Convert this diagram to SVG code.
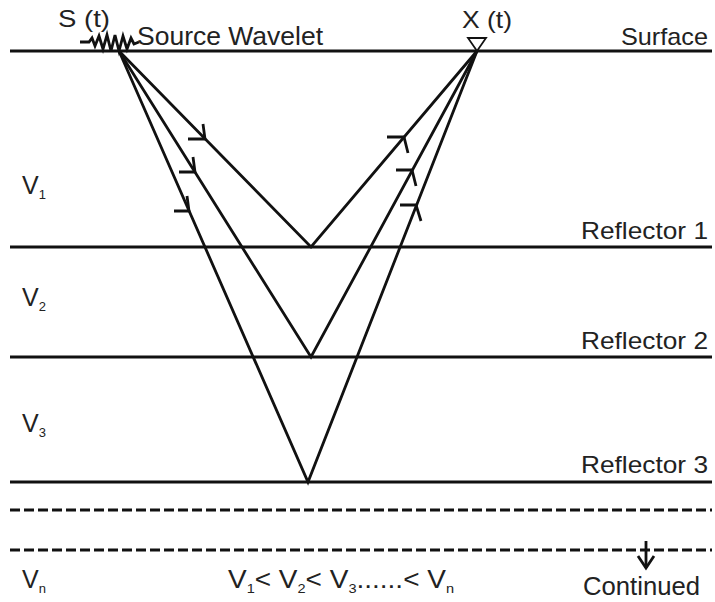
<svg xmlns="http://www.w3.org/2000/svg" width="715" height="602" viewBox="0 0 715 602">
<style>
.t{font-family:"Liberation Sans",Arial,sans-serif;fill:#222;}
.ln{stroke:#111;stroke-width:3;fill:none;}
.dl{stroke:#111;stroke-width:3;fill:none;stroke-dasharray:10 4;}
.ray{stroke:#111;stroke-width:2.8;fill:none;stroke-linejoin:miter;}
.ah{stroke:#111;stroke-width:2.8;fill:none;}
</style>
<rect width="715" height="602" fill="#fff"/>
<g id="layers">
<line class="ln" x1="10" y1="51" x2="712" y2="51"/>
<line class="ln" x1="10" y1="247" x2="712" y2="247"/>
<line class="ln" x1="10" y1="357" x2="712" y2="357"/>
<line class="ln" x1="10" y1="482" x2="712" y2="482"/>
<line class="dl" x1="10" y1="510" x2="712" y2="510"/>
<line class="dl" x1="10" y1="550" x2="712" y2="550"/>
</g>
<g id="source">
<polyline class="ah" stroke-width="2.4" points="80,42 89,42 92,38 95,46 99,36 103,49 107,35 111,51 115,35 119,51 123,36 127,49 131,38 134,44 139,42"/>
<text class="t" x="58" y="27" font-size="24" textLength="52" lengthAdjust="spacingAndGlyphs">S (t)</text>
<text class="t" x="137" y="45" font-size="25" textLength="186" lengthAdjust="spacingAndGlyphs">Source Wavelet</text>
</g>
<g id="receiver">
<polygon points="468,38 486,38 477,51" fill="#fff" stroke="#111" stroke-width="1.8"/>
<text class="t" x="462" y="28" font-size="24" textLength="50" lengthAdjust="spacingAndGlyphs">X (t)</text>
</g>
<g id="labels">
<text class="t" x="621" y="45" font-size="24" textLength="87" lengthAdjust="spacingAndGlyphs">Surface</text>
<text class="t" x="581" y="239" font-size="24" textLength="127" lengthAdjust="spacingAndGlyphs">Reflector 1</text>
<text class="t" x="581" y="349" font-size="24" textLength="127" lengthAdjust="spacingAndGlyphs">Reflector 2</text>
<text class="t" x="581" y="473" font-size="24" textLength="127" lengthAdjust="spacingAndGlyphs">Reflector 3</text>
<text class="t" x="22" y="194" font-size="25">V<tspan font-size="13" dy="5">1</tspan></text>
<text class="t" x="22" y="306" font-size="25">V<tspan font-size="13" dy="5">2</tspan></text>
<text class="t" x="22" y="432" font-size="25">V<tspan font-size="13" dy="5">3</tspan></text>
<text class="t" x="22" y="588" font-size="25">V<tspan font-size="13" dy="5">n</tspan></text>
<text class="t" x="228" y="588" font-size="25" textLength="226" lengthAdjust="spacingAndGlyphs">V<tspan font-size="13" dy="5">1</tspan><tspan dy="-5">&lt; V</tspan><tspan font-size="13" dy="5">2</tspan><tspan dy="-5">&lt; V</tspan><tspan font-size="13" dy="5">3</tspan><tspan dy="-5">......&lt; V</tspan><tspan font-size="13" dy="5">n</tspan></text>
<text class="t" x="583" y="595" font-size="25" textLength="117" lengthAdjust="spacingAndGlyphs">Continued</text>
</g>
<g id="connectors">
<polyline class="ray" points="119,51 311,247 477,51"/>
<polyline class="ray" points="119,51 311,357 477,51"/>
<polyline class="ray" points="119,51 308,482 477,51"/>
<polyline class="ah" points="188,139 205,139 203,124"/>
<polyline class="ah" points="179,172 195,172 193,157"/>
<polyline class="ah" points="174,211 189,211 187,196"/>
<polyline class="ah" points="387,137 404,137 408,153"/>
<polyline class="ah" points="396,170 412,170 416,186"/>
<polyline class="ah" points="400,205 416,205 421,221"/>
<line class="ah" x1="646" y1="541" x2="646" y2="568"/>
<polyline class="ah" points="638,556 646,568 654,556"/>
</g>
</svg>
